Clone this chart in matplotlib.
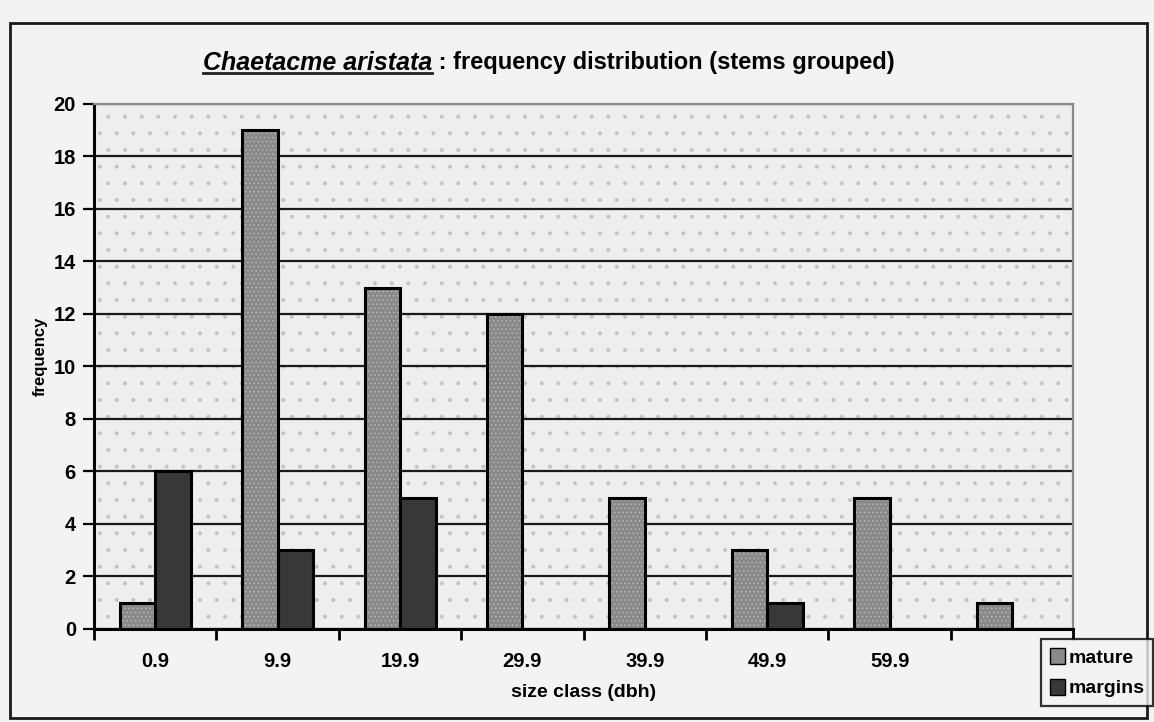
import matplotlib
matplotlib.use("Agg")
import matplotlib.pyplot as plt
from matplotlib.patches import Patch, Rectangle
from matplotlib.lines import Line2D
import numpy as np

# size classes (dbh) and stem counts per class
size_classes = ['0.9', '9.9', '19.9', '29.9', '39.9', '49.9', '59.9', '']
mature = [1, 19, 13, 12, 5, 3, 5, 1]
margins = [6, 3, 5, 0, 0, 1, 0, 0]

MATURE_COLOR = '#8a8a8a'
MARGINS_COLOR = '#383838'
PAGE_COLOR = '#f3f3f3'
PLOT_BG = '#eeeeee'

plt.rcParams['font.family'] = ['Liberation Sans', 'DejaVu Sans']
plt.rcParams['hatch.linewidth'] = 0.5


def draw_bars(ax, x, values, offset, width, color, hatch, hatch_color):
    # fill + speckle first, then a plain black outline on top
    ax.bar(x + offset, values, width, color=color, edgecolor=hatch_color,
           hatch=hatch, linewidth=0, zorder=2)
    ax.bar(x + offset, values, width, fill=False, edgecolor='black',
           linewidth=2.2, zorder=3)


def plot_frequency():
    fig = plt.figure(figsize=(11.54, 7.22), dpi=100, facecolor=PAGE_COLOR)
    ax = fig.add_axes([0.0815, 0.129, 0.8485, 0.727])
    ax.set_facecolor(PLOT_BG)

    # stippled plot background
    ax.add_patch(Rectangle((0, 0), 1, 1, transform=ax.transAxes, facecolor='none',
                           edgecolor='#c4c4c4', hatch='.', linewidth=0, zorder=0.1))

    x = np.arange(len(size_classes))
    width = 0.29
    draw_bars(ax, x, mature, -width / 2, width, MATURE_COLOR, '....', '#bcbcbc')
    draw_bars(ax, x, margins, width / 2, width, MARGINS_COLOR, None, MARGINS_COLOR)

    ax.set_xlim(-0.5, len(size_classes) - 0.5)
    ax.set_ylim(0, 20)
    ax.set_yticks(np.arange(0, 21, 2))
    ax.set_axisbelow(True)
    ax.yaxis.grid(True, color='#1a1a1a', linewidth=1.6)

    # labels at class centres, tick marks on the class boundaries
    ax.set_xticks(x)
    ax.set_xticklabels(size_classes, fontsize=14.5, fontweight='bold')
    ax.set_xticks(np.arange(-0.5, len(size_classes)), minor=True)
    ax.tick_params(axis='x', which='major', length=0, pad=17)
    ax.tick_params(axis='x', which='minor', length=8, width=2, direction='out')
    ax.tick_params(axis='y', length=8, width=1.6, labelsize=14.5, pad=5)
    for lbl in ax.get_yticklabels():
        lbl.set_fontweight('bold')

    for side in ('left', 'bottom'):
        ax.spines[side].set_linewidth(2.2)
        ax.spines[side].set_color('black')
    for side in ('top', 'right'):
        ax.spines[side].set_linewidth(1.6)
        ax.spines[side].set_color('#8a8a8a')

    ax.set_xlabel('size class (dbh)', fontsize=14, fontweight='bold', labelpad=9)
    ax.set_ylabel('frequency', fontsize=12, fontweight='bold')
    ax.yaxis.set_label_coords(-0.047, 0.52)

    # title: italic underlined species name followed by the description
    species = fig.text(0.3743, 0.913, 'Chaetacme aristata', ha='right', va='center',
                       fontsize=18, fontweight='bold', fontstyle='italic')
    fig.text(0.3743, 0.913, ' : frequency distribution (stems grouped)', ha='left',
             va='center', fontsize=17, fontweight='bold')
    fig.canvas.draw()
    bb = species.get_window_extent().transformed(fig.transFigure.inverted())
    fig.add_artist(Line2D([bb.x0, bb.x1], [bb.y0 + 0.002, bb.y0 + 0.002],
                          transform=fig.transFigure, color='#222222', linewidth=2))

    # outer chart border
    fig.add_artist(Rectangle((0.009, 0.006), 0.985, 0.962, transform=fig.transFigure,
                             fill=False, edgecolor='#1a1a1a', linewidth=2))

    # legend box in the lower right corner
    handles = [Patch(facecolor=MATURE_COLOR, edgecolor='black', linewidth=1),
               Patch(facecolor=MARGINS_COLOR, edgecolor='black', linewidth=1)]
    leg = fig.legend(handles, ['mature', 'margins'], loc='lower left',
                     bbox_to_anchor=(0.9025, 0.022), frameon=True, fancybox=False,
                     handlelength=0.75, handleheight=0.9, handletextpad=0.2,
                     borderpad=0.45, borderaxespad=0, labelspacing=0.6,
                     prop={'weight': 'bold', 'size': 14})
    leg.get_frame().set_edgecolor('black')
    leg.get_frame().set_linewidth(1.6)
    leg.get_frame().set_facecolor(PAGE_COLOR)
    leg.set_zorder(5)

    fig.savefig('out.png', dpi=100, facecolor=PAGE_COLOR)


if __name__ == '__main__':
    plot_frequency()
